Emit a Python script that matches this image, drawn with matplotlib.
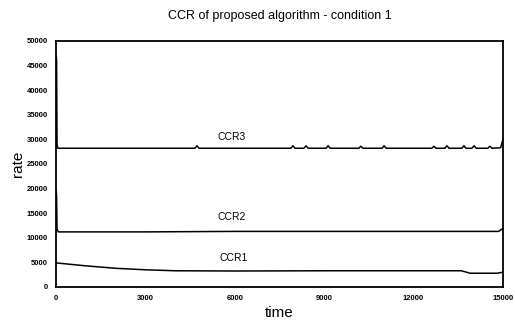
import matplotlib
matplotlib.use("Agg")
import matplotlib.pyplot as plt

plt.rcParams['font.family'] = ['Liberation Sans', 'DejaVu Sans']

# CCR3: start-up spike, flat ~28200 with small bumps, rise at the end
ccr3_t = [0, 8, 20, 35, 60, 4660, 4730, 4800, 7880, 7950, 8020, 8320, 8390, 8460,
          9060, 9130, 9200, 10160, 10230, 10300, 10940, 11010, 11080,
          12610, 12680, 12750, 13050, 13120, 13190, 13620, 13690, 13760,
          13960, 14030, 14100, 14490, 14560, 14630, 14920, 15000]
ccr3_v = [28200, 47000, 46000, 29000, 28200, 28200, 28700, 28200, 28200, 28700, 28200, 28200, 28700, 28200,
          28200, 28700, 28200, 28200, 28600, 28200, 28200, 28700, 28200,
          28200, 28600, 28200, 28200, 28700, 28200, 28200, 28700, 28200,
          28200, 28700, 28200, 28200, 28600, 28200, 28300, 30000]

# CCR2
ccr2_t = [0, 8, 20, 35, 80, 3000, 6000, 9000, 12000, 14850, 15000]
ccr2_v = [11200, 19500, 18500, 11800, 11200, 11200, 11300, 11300, 11300, 11300, 11900]

# CCR1
ccr1_t = [0, 500, 1000, 2000, 3000, 4000, 6000, 9000, 12000, 13600, 13900, 14800, 15000]
ccr1_v = [4900, 4600, 4300, 3800, 3500, 3300, 3250, 3300, 3300, 3300, 2800, 2800, 3000]

labels = ['CCR3', 'CCR2', 'CCR1']
label_x = [5900, 5900, 5950]
label_y = [30500, 14300, 5900]

xticks = [0, 3000, 6000, 9000, 12000, 15000]
yticks = list(range(0, 50001, 5000))

fig = plt.figure(figsize=(5.15, 3.24), dpi=100)
ax = fig.add_axes([0.1087, 0.1142, 0.868, 0.7593])

for t, v in [(ccr3_t, ccr3_v), (ccr2_t, ccr2_v), (ccr1_t, ccr1_v)]:
    ax.plot(t, v, color='black', lw=1.1)

for lab, x, y in zip(labels, label_x, label_y):
    ax.text(x, y, lab, fontsize=7.5, ha='center', va='center')

ax.set_xlim(0, 15000)
ax.set_ylim(0, 50000)
ax.set_xticks(xticks)
ax.set_xticklabels([str(v) for v in xticks])
ax.set_yticks(yticks)
ax.set_yticklabels([str(v) for v in yticks])
ax.tick_params(length=0, labelsize=5.5, pad=6)
for lbl in ax.get_xticklabels() + ax.get_yticklabels():
    lbl.set_fontweight('bold')
for sp in ax.spines.values():
    sp.set_linewidth(1.3)

ax.set_title('CCR of proposed algorithm - condition 1', fontsize=9, pad=16)
ax.set_xlabel('time', fontsize=11, labelpad=3)
ax.set_ylabel('rate', fontsize=11, labelpad=1)

fig.savefig('out.png', dpi=100)
